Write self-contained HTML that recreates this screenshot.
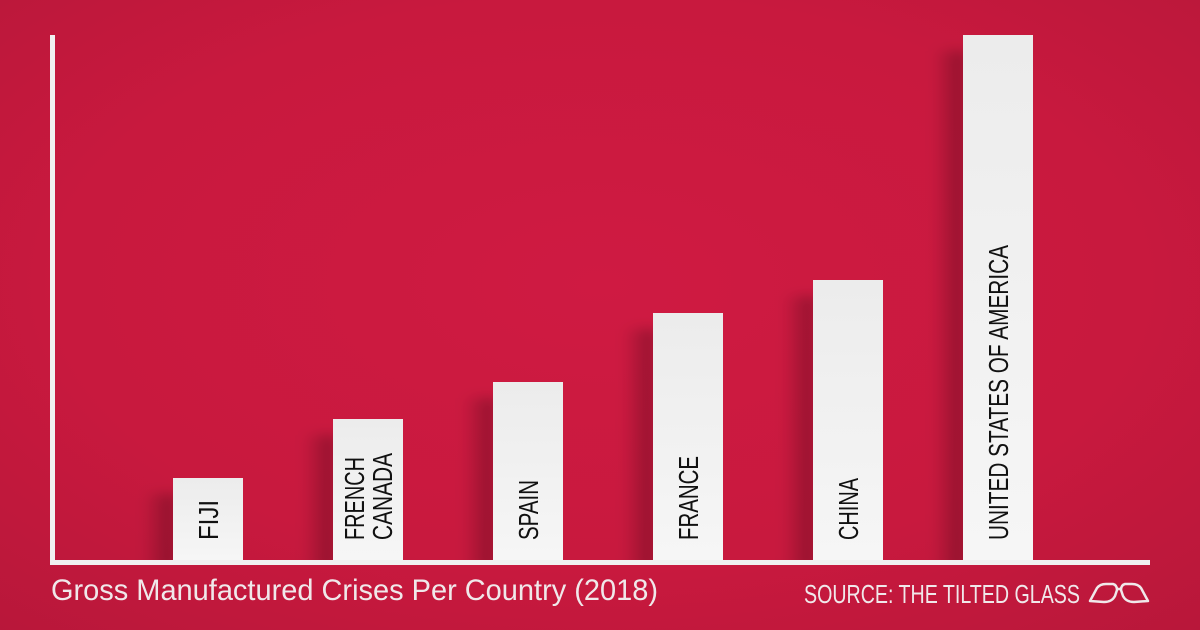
<!DOCTYPE html>
<html><head><meta charset="utf-8"><style>
html,body{margin:0;padding:0;width:1200px;height:630px;overflow:hidden;background:#c8193e}
</style></head><body>
<svg width="1200" height="630" viewBox="0 0 1200 630" xmlns="http://www.w3.org/2000/svg" font-family="Liberation Sans, sans-serif">
<defs>
<radialGradient id="bg" cx="0.5" cy="0.45" r="0.75">
<stop offset="0" stop-color="#cf1a42"/><stop offset="0.6" stop-color="#c8193e"/><stop offset="1" stop-color="#b8173a"/>
</radialGradient>
<linearGradient id="bar" x1="0" y1="0" x2="0" y2="1">
<stop offset="0" stop-color="#ececec"/><stop offset="1" stop-color="#f6f6f6"/>
</linearGradient>
<linearGradient id="sh" x1="1" y1="0" x2="0" y2="0">
<stop offset="0" stop-color="#000" stop-opacity="0.3"/><stop offset="1" stop-color="#000" stop-opacity="0"/>
</linearGradient>
<filter id="blur" x="-50%" y="-50%" width="200%" height="200%"><feGaussianBlur stdDeviation="6"/></filter>
<clipPath id="plot"><rect x="55" y="0" width="1095" height="560"/></clipPath>
</defs>
<rect width="1200" height="630" fill="url(#bg)"/>
<g fill="url(#sh)" filter="url(#blur)" clip-path="url(#plot)">
<rect x="143" y="494" width="32" height="76"/>
<rect x="303" y="435" width="32" height="135"/>
<rect x="463" y="398" width="32" height="172"/>
<rect x="623" y="329" width="32" height="241"/>
<rect x="783" y="296" width="32" height="274"/>
<rect x="933" y="51" width="32" height="519"/>
</g>
<g fill="url(#bar)">
<rect x="173" y="478" width="70" height="82"/>
<rect x="333" y="419" width="70" height="141"/>
<rect x="493" y="382" width="70" height="178"/>
<rect x="653" y="313" width="70" height="247"/>
<rect x="813" y="280" width="70" height="280"/>
<rect x="963" y="35" width="70" height="525"/>
</g>
<rect x="50" y="35" width="5" height="530" fill="#f0f0f0"/>
<rect x="50" y="560" width="1100" height="5" fill="#f0f0f0"/>
<g font-size="28" fill="#111">
<text transform="translate(218,540) rotate(-90)" textLength="40" lengthAdjust="spacingAndGlyphs">FIJI</text>
<text transform="translate(364,540) rotate(-90)" textLength="83" lengthAdjust="spacingAndGlyphs">FRENCH</text>
<text transform="translate(392,540) rotate(-90)" textLength="87" lengthAdjust="spacingAndGlyphs">CANADA</text>
<text transform="translate(538,540) rotate(-90)" textLength="60" lengthAdjust="spacingAndGlyphs">SPAIN</text>
<text transform="translate(698,540) rotate(-90)" textLength="84" lengthAdjust="spacingAndGlyphs">FRANCE</text>
<text transform="translate(858,540) rotate(-90)" textLength="62" lengthAdjust="spacingAndGlyphs">CHINA</text>
<text transform="translate(1008,540) rotate(-90)" textLength="295" lengthAdjust="spacingAndGlyphs">UNITED STATES OF AMERICA</text>
</g>
<text x="51" y="600" font-size="30" fill="#f0e8ea" textLength="607" lengthAdjust="spacingAndGlyphs">Gross Manufactured Crises Per Country (2018)</text>
<text x="804" y="603" font-size="26" fill="#f0e8ea" textLength="276" lengthAdjust="spacingAndGlyphs">SOURCE: THE TILTED GLASS</text>
<g fill="none" stroke="#f0e8ea" stroke-width="2.5" stroke-linejoin="round">
<path d="M1090 601 L1097 588 Q1100 584 1106 584 L1113 584 Q1117 585 1117 590 L1115 596 Q1112 602 1104 602 Z"/>
<path d="M1148 601 L1141 588 Q1138 584 1132 584 L1125 584 Q1121 585 1121 590 L1123 596 Q1126 602 1134 602 Z"/>
<path d="M1117 589 L1121 589"/>
</g>
</svg>
</body></html>
